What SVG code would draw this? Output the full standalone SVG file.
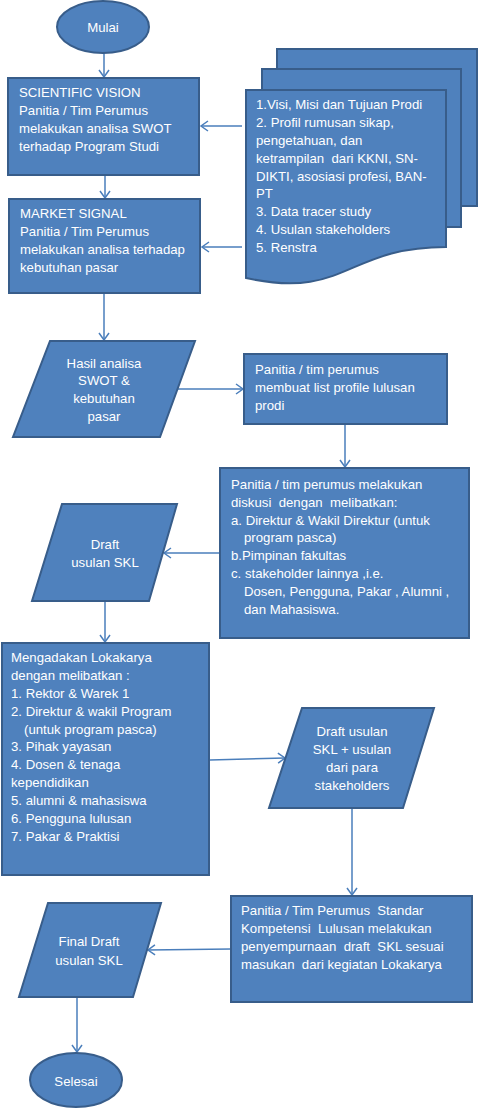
<svg xmlns="http://www.w3.org/2000/svg" width="479" height="1110" viewBox="0 0 479 1110">
<defs>
<style>
.s{fill:#4F81BD;stroke:#385D8A;stroke-width:2}
.t{fill:#FFFFFF;font-family:"Liberation Sans",Arial,sans-serif;font-size:13.2px;white-space:pre}
.c{text-anchor:middle}
.e{fill:none;stroke:#4A7EBB;stroke-width:1.5;marker-end:url(#ah)}
</style>
<marker id="ah" markerUnits="userSpaceOnUse" markerWidth="12" markerHeight="12" refX="9" refY="6" orient="auto">
<path d="M2,1 L9,6 L2,11" fill="none" stroke="#4A7EBB" stroke-width="1.5"/>
</marker>
</defs>
<rect width="479" height="1110" fill="#FFFFFF"/>
<g id="connectors">
<path class="e" d="M104,53 V77"/>
<path class="e" d="M105,175 V198"/>
<path class="e" d="M242,126 H201"/>
<path class="e" d="M242,247 H202"/>
<path class="e" d="M104,293 V340"/>
<path class="e" d="M178,389 H243"/>
<path class="e" d="M345,424 V467"/>
<path class="e" d="M220,553 H164"/>
<path class="e" d="M105,601 V642"/>
<path class="e" d="M210,760 L285,758"/>
<path class="e" d="M352,808 V895"/>
<path class="e" d="M231,949 L148,950"/>
<path class="e" d="M77,997 V1052"/>
</g>
<g id="mulai">
<ellipse class="s" cx="103" cy="27" rx="46" ry="26"/>
<text class="t c" x="103" y="32">Mulai</text>
</g>
<g id="scientific-vision">
<rect class="s" x="8" y="78" width="191" height="97"/>
<text class="t" x="19" y="97">SCIENTIFIC VISION</text>
<text class="t" x="19" y="115">Panitia / Tim Perumus</text>
<text class="t" x="19" y="133">melakukan analisa SWOT</text>
<text class="t" x="19" y="151">terhadap Program Studi</text>
</g>
<g id="market-signal">
<rect class="s" x="9" y="199" width="191" height="94"/>
<text class="t" x="20" y="218">MARKET SIGNAL</text>
<text class="t" x="20" y="236">Panitia / Tim Perumus</text>
<text class="t" x="20" y="254">melakukan analisa terhadap</text>
<text class="t" x="20" y="272">kebutuhan pasar</text>
</g>
<g id="documents">
<rect class="s" x="277" y="49" width="200" height="157"/>
<rect class="s" x="262" y="69" width="199" height="158"/>
<path class="s" d="M246,90 H446 V247 C346,247 346,300 246,278 Z"/>
<text class="t" x="256" y="108.5">1.Visi, Misi dan Tujuan Prodi</text>
<text class="t" x="256" y="126.5">2. Profil rumusan sikap,</text>
<text class="t" x="256" y="144.5">pengetahuan, dan</text>
<text class="t" x="256" y="162.5">ketrampilan  dari KKNI, SN-</text>
<text class="t" x="256" y="180.5">DIKTI, asosiasi profesi, BAN-</text>
<text class="t" x="256" y="198">PT</text>
<text class="t" x="256" y="216">3. Data tracer study</text>
<text class="t" x="256" y="234">4. Usulan stakeholders</text>
<text class="t" x="256" y="252">5. Renstra</text>
</g>
<g id="hasil-analisa">
<path class="s" d="M50,341 H195 L160,437 H13 Z"/>
<text class="t c" x="104" y="367.5">Hasil analisa</text>
<text class="t c" x="104" y="385">SWOT &amp;</text>
<text class="t c" x="104" y="403">kebutuhan</text>
<text class="t c" x="104" y="421">pasar</text>
</g>
<g id="list-profile">
<rect class="s" x="244" y="354" width="203" height="70"/>
<text class="t" x="255" y="374">Panitia / tim perumus</text>
<text class="t" x="255" y="391.5">membuat list profile lulusan</text>
<text class="t" x="255" y="409.5">prodi</text>
</g>
<g id="diskusi">
<rect class="s" x="220" y="468" width="249" height="170"/>
<text class="t" x="231" y="488.5">Panitia / tim perumus melakukan</text>
<text class="t" x="231" y="506.5">diskusi  dengan  melibatkan:</text>
<text class="t" x="231" y="524.5">a. Direktur &amp; Wakil Direktur (untuk</text>
<text class="t" x="244" y="542">program pasca)</text>
<text class="t" x="231" y="560">b.Pimpinan fakultas</text>
<text class="t" x="231" y="578">c. stakeholder lainnya ,i.e.</text>
<text class="t" x="244" y="596">Dosen, Pengguna, Pakar , Alumni ,</text>
<text class="t" x="244" y="613.5">dan Mahasiswa.</text>
</g>
<g id="draft-skl">
<path class="s" d="M62,504 H177 L149,601 H32 Z"/>
<text class="t c" x="105" y="549">Draft</text>
<text class="t c" x="105" y="567">usulan SKL</text>
</g>
<g id="lokakarya">
<rect class="s" x="2" y="643" width="207" height="232"/>
<text class="t" x="11" y="662">Mengadakan Lokakarya</text>
<text class="t" x="11" y="680">dengan melibatkan :</text>
<text class="t" x="11" y="697.5">1. Rektor &amp; Warek 1</text>
<text class="t" x="11" y="715.5">2. Direktur &amp; wakil Program</text>
<text class="t" x="24" y="733.5">(untuk program pasca)</text>
<text class="t" x="11" y="751">3. Pihak yayasan</text>
<text class="t" x="11" y="769">4. Dosen &amp; tenaga</text>
<text class="t" x="11" y="787">kependidikan</text>
<text class="t" x="11" y="805">5. alumni &amp; mahasiswa</text>
<text class="t" x="11" y="823">6. Pengguna lulusan</text>
<text class="t" x="11" y="840.5">7. Pakar &amp; Praktisi</text>
</g>
<g id="draft-stakeholders">
<path class="s" d="M302,708 H434 L403,808 H269 Z"/>
<text class="t c" x="352" y="735.5">Draft usulan</text>
<text class="t c" x="352" y="754">SKL + usulan</text>
<text class="t c" x="352" y="772">dari para</text>
<text class="t c" x="352" y="789.5">stakeholders</text>
</g>
<g id="penyempurnaan">
<rect class="s" x="231" y="896" width="241" height="106"/>
<text class="t" x="241" y="915">Panitia / Tim Perumus  Standar</text>
<text class="t" x="241" y="933">Kompetensi  Lulusan melakukan</text>
<text class="t" x="241" y="951">penyempurnaan  draft  SKL sesuai</text>
<text class="t" x="241" y="969">masukan  dari kegiatan Lokakarya</text>
</g>
<g id="final-draft">
<path class="s" d="M48,903 H161 L133,997 H19 Z"/>
<text class="t c" x="89" y="946">Final Draft</text>
<text class="t c" x="89" y="964.5">usulan SKL</text>
</g>
<g id="selesai">
<ellipse class="s" cx="76" cy="1080" rx="46" ry="27"/>
<text class="t c" x="76" y="1085.5">Selesai</text>
</g>
</svg>
